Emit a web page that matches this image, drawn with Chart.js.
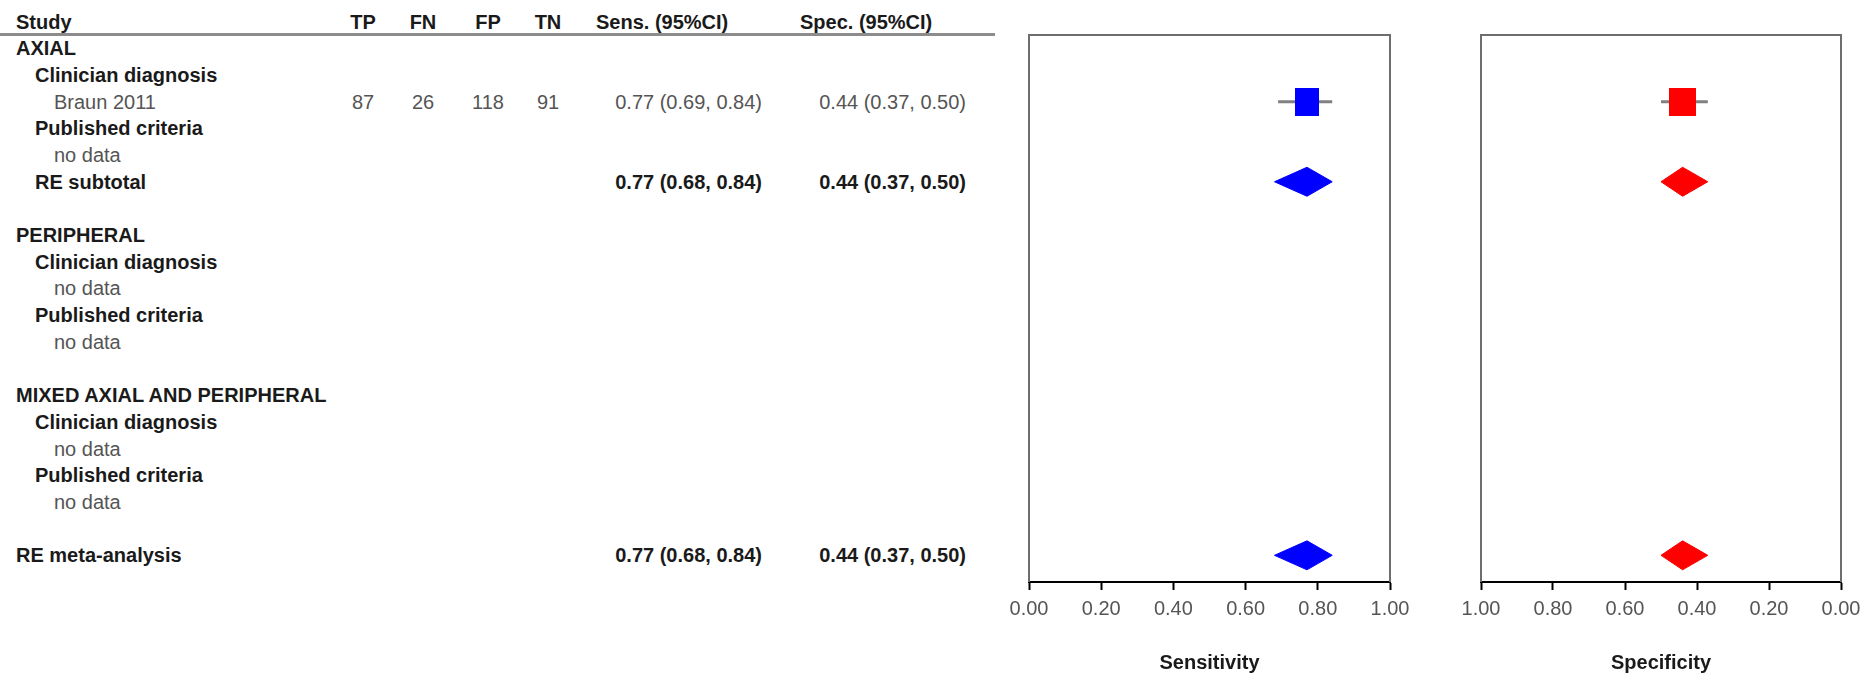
<!DOCTYPE html>
<html>
<head>
<meta charset="utf-8">
<script src="https://cdn.jsdelivr.net/npm/chart.js@4.4.0/dist/chart.umd.min.js"></script>
<style>
  html, body { margin: 0; padding: 0; background: #fff; overflow: hidden; }
  #page { position: relative; width: 1866px; height: 676px; font-family: "Liberation Sans", Arial, sans-serif; font-size: 20px; }
  .cell { position: absolute; height: 26px; line-height: 26px; white-space: nowrap; color: #555; }
  .b { font-weight: bold; color: #1a1a1a; }
  #hdrLine { position: absolute; left: 0; top: 33px; width: 995px; height: 3px; background: #8c8c8c; }
  canvas { position: absolute; top: 0; }
</style>
</head>
<body>
<div id="page">
  <div id="table"></div>
  <div id="hdrLine"></div>
  <canvas id="sensChart" width="441" height="676" style="left:989px"></canvas>
  <canvas id="specChart" width="425" height="676" style="left:1441px"></canvas>
</div>
<script>
// ===============================================
// DATOS
// ===============================================
const headers = ["Study", "TP", "FN", "FP", "TN", "Sens. (95%CI)", "Spec. (95%CI)"];

const rowLabels = [
    "AXIAL", "Clinician diagnosis", "Braun 2011", "Published criteria", "no data", "RE subtotal", "",
    "PERIPHERAL", "Clinician diagnosis", "no data", "Published criteria", "no data", "",
    "MIXED AXIAL AND PERIPHERAL", "Clinician diagnosis", "no data", "Published criteria", "no data", "",
    "RE meta-analysis"
];
// 0 = grupo, 1 = subgrupo / subtotal, 2 = estudio / sin datos
const rowLevel = [0, 1, 2, 1, 2, 1, 0, 0, 1, 2, 1, 2, 0, 0, 1, 2, 1, 2, 0, 0];

// estudios individuales
const studies = ["Braun 2011"];
const tp = [87];
const fn = [26];
const fp = [118];
const tn = [91];
const sens = [0.77];
const sensLow = [0.69];
const sensHigh = [0.84];
const spec = [0.44];
const specLow = [0.37];
const specHigh = [0.50];

// estimaciones combinadas
const pooled = ["RE subtotal", "RE meta-analysis"];
const pooledRowIdx = [5, 19];
const pooledSens = [0.77, 0.77];
const pooledSensLow = [0.68, 0.68];
const pooledSensHigh = [0.84, 0.84];
const pooledSpec = [0.44, 0.44];
const pooledSpecLow = [0.37, 0.37];
const pooledSpecHigh = [0.50, 0.50];

const xTicks = [0, 0.2, 0.4, 0.6, 0.8, 1.0];

// ===============================================
// LAYOUT
// ===============================================
const FONT = "'Liberation Sans', Arial, sans-serif";
const PLOT_TOP = 35;
const PLOT_BOTTOM = 582;
const Y_MIN = -0.5, Y_MAX = 20;
const ROW_H = (PLOT_BOTTOM - PLOT_TOP) / (Y_MAX - Y_MIN);
const rowY = r => PLOT_TOP + (r - Y_MIN) * ROW_H;
const studyRowIdx = studies.map(s => rowLabels.indexOf(s));

const fmtCI = (e, l, h) => `${e.toFixed(2)} (${l.toFixed(2)}, ${h.toFixed(2)})`;

// ===============================================
// TABLA DE LA IZQUIERDA
// ===============================================
const table = document.getElementById("table");

function addCell(text, yc, opts) {
    const d = document.createElement("div");
    d.className = "cell" + (opts.bold ? " b" : "");
    d.textContent = text;
    d.style.top = (yc - 13) + "px";
    if (opts.align === "center") {
        d.style.left = (opts.x - 40) + "px";
        d.style.width = "80px";
        d.style.textAlign = "center";
    } else if (opts.align === "right") {
        d.style.left = (opts.x - 220) + "px";
        d.style.width = "220px";
        d.style.textAlign = "right";
    } else {
        d.style.left = opts.x + "px";
    }
    table.appendChild(d);
}

const colCenters = [363, 423, 488, 548];
const indentX = [16, 35, 54];

// cabecera
addCell(headers[0], 22, { x: 16, bold: true });
headers.slice(1, 5).forEach((h, i) => addCell(h, 22, { x: colCenters[i], align: "center", bold: true }));
addCell(headers[5], 22, { x: 596, bold: true });
addCell(headers[6], 22, { x: 800, bold: true });

rowLabels.forEach((lab, r) => {
    if (!lab) return;
    addCell(lab, rowY(r), { x: indentX[rowLevel[r]], bold: rowLevel[r] < 2 });
});

studies.forEach((s, i) => {
    const yc = rowY(studyRowIdx[i]);
    [tp[i], fn[i], fp[i], tn[i]].forEach((v, k) => addCell(String(v), yc, { x: colCenters[k], align: "center" }));
    addCell(fmtCI(sens[i], sensLow[i], sensHigh[i]), yc, { x: 762, align: "right" });
    addCell(fmtCI(spec[i], specLow[i], specHigh[i]), yc, { x: 966, align: "right" });
});

pooled.forEach((p, i) => {
    const yc = rowY(pooledRowIdx[i]);
    addCell(fmtCI(pooledSens[i], pooledSensLow[i], pooledSensHigh[i]), yc, { x: 762, align: "right", bold: true });
    addCell(fmtCI(pooledSpec[i], pooledSpecLow[i], pooledSpecHigh[i]), yc, { x: 966, align: "right", bold: true });
});

// ===============================================
// GRAFICAS (FOREST PLOTS)
// ===============================================
function makeBox(w, h, color) {
    const c = document.createElement("canvas");
    c.width = w;
    c.height = h;
    const g = c.getContext("2d");
    g.fillStyle = color;
    g.fillRect(0, 0, w, h);
    return c;
}

// marco gris del panel (arriba y laterales)
const panelFrame = {
    id: "panelFrame",
    beforeDatasetsDraw(chart) {
        const { ctx, chartArea: a } = chart;
        ctx.save();
        ctx.strokeStyle = "#6e6e6e";
        ctx.lineWidth = 2;
        ctx.beginPath();
        ctx.moveTo(a.left, a.bottom);
        ctx.lineTo(a.left, a.top);
        ctx.lineTo(a.right, a.top);
        ctx.lineTo(a.right, a.bottom);
        ctx.stroke();
        ctx.restore();
    }
};

const DIAMOND_HALF = 14.5 / ROW_H;

function crearPanel(canvasId, est, lo, hi, pEst, pLo, pHi, color, boxW, title, reverse, padL, padR) {
    const datasets = [];

    datasets.push({
        data: studies.map((s, i) => ({ x: est[i], y: studyRowIdx[i] })),
        pointStyle: makeBox(boxW, 28, color),
        pointRadius: 12,
        showLine: false
    });

    studies.forEach((s, i) => {
        datasets.push({
            data: [{ x: lo[i], y: studyRowIdx[i] }, { x: hi[i], y: studyRowIdx[i] }],
            showLine: true,
            borderColor: "#808080",
            borderWidth: 3,
            pointRadius: 0
        });
    });

    pooled.forEach((p, i) => {
        const r = pooledRowIdx[i];
        datasets.push({
            data: [
                { x: pLo[i], y: r },
                { x: pEst[i], y: r - DIAMOND_HALF },
                { x: pHi[i], y: r },
                { x: pEst[i], y: r + DIAMOND_HALF },
                { x: pLo[i], y: r }
            ],
            showLine: true,
            fill: "shape",
            backgroundColor: color,
            borderColor: color,
            borderWidth: 1,
            pointRadius: 0,
            tension: 0
        });
    });

    new Chart(document.getElementById(canvasId), {
        type: "scatter",
        data: { datasets },
        options: {
            responsive: false,
            animation: false,
            devicePixelRatio: 1,
            layout: { padding: { left: padL, right: padR, top: PLOT_TOP, bottom: 0 } },
            plugins: { legend: { display: false }, tooltip: { enabled: false } },
            scales: {
                x: {
                    type: "linear",
                    min: 0,
                    max: 1,
                    reverse: reverse,
                    afterBuildTicks: scale => { scale.ticks = xTicks.map(v => ({ value: v })); },
                    afterFit: scale => { scale.height = 676 - PLOT_BOTTOM; },
                    ticks: {
                        callback: v => Number(v).toFixed(2),
                        color: "#555",
                        font: { family: FONT, size: 20 },
                        padding: 7,
                        maxRotation: 0,
                        autoSkip: false
                    },
                    grid: { drawOnChartArea: false, drawTicks: true, tickLength: 8, tickColor: "#000", tickWidth: 2 },
                    border: { display: true, color: "#000", width: 2 },
                    title: {
                        display: true,
                        text: title,
                        color: "#1a1a1a",
                        font: { family: FONT, size: 20, weight: "bold" },
                        padding: { top: 0, bottom: 1 }
                    }
                },
                y: { type: "linear", display: false, min: Y_MIN, max: Y_MAX, reverse: true }
            }
        },
        plugins: [panelFrame]
    });
}

crearPanel("sensChart", sens, sensLow, sensHigh, pooledSens, pooledSensLow, pooledSensHigh,
    "#0000ff", 24, "Sensitivity", false, 40, 40);
crearPanel("specChart", spec, specLow, specHigh, pooledSpec, pooledSpecLow, pooledSpecHigh,
    "#ff0000", 27, "Specificity", true, 40, 25);
</script>
</body>
</html>
